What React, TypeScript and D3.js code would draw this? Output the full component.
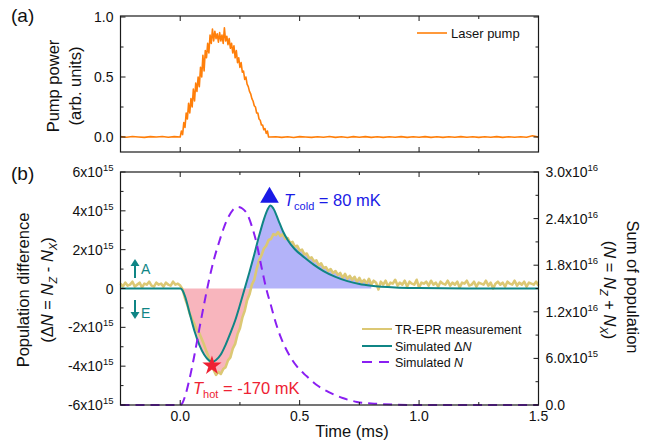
import React from 'react';
import * as d3 from 'd3';

const W = 657;
const H = 443;
const FONT = '"Liberation Sans", Arial, Helvetica, sans-serif';

// ---- data ----
// laser pump (arb. units), [time ms, value]
const pumpBase = [
  [-0.25, 0.003], [-0.225, -0.002], [-0.2, 0.004], [-0.175, 0], [-0.15, -0.003], [-0.125, 0.003],
  [-0.1, 0], [-0.075, 0.004], [-0.05, -0.002], [-0.025, 0.003],
];
const pumpPulse = [
  [0.0, 0.0], [0.005, 0.05], [0.01, 0.02], [0.015, 0.12], [0.02, 0.08], [0.025, 0.2], [0.03, 0.15],
  [0.035, 0.28], [0.04, 0.2], [0.045, 0.32], [0.05, 0.25], [0.055, 0.4], [0.06, 0.3], [0.065, 0.45],
  [0.07, 0.38], [0.075, 0.5], [0.08, 0.42], [0.085, 0.58], [0.09, 0.5], [0.095, 0.68], [0.1, 0.55],
  [0.105, 0.72], [0.11, 0.66], [0.115, 0.78], [0.12, 0.7], [0.125, 0.85], [0.13, 0.78], [0.135, 0.9],
  [0.14, 0.8], [0.145, 0.88], [0.15, 0.82], [0.155, 0.86], [0.16, 0.79], [0.165, 0.87], [0.17, 0.8],
  [0.175, 0.85], [0.18, 0.78], [0.185, 0.91], [0.19, 0.8], [0.195, 0.84], [0.2, 0.77], [0.205, 0.82],
  [0.21, 0.74], [0.215, 0.78], [0.22, 0.7], [0.225, 0.76], [0.23, 0.66], [0.235, 0.72], [0.24, 0.62],
  [0.245, 0.66], [0.25, 0.58], [0.255, 0.62], [0.26, 0.54], [0.265, 0.55], [0.27, 0.48], [0.275, 0.5],
  [0.28, 0.44], [0.285, 0.42], [0.29, 0.38], [0.295, 0.36], [0.3, 0.32], [0.305, 0.3], [0.31, 0.26],
  [0.315, 0.25], [0.32, 0.2], [0.325, 0.2], [0.33, 0.15], [0.335, 0.14], [0.34, 0.1], [0.345, 0.1],
  [0.35, 0.06], [0.355, 0.07], [0.36, 0.03], [0.365, 0.05], [0.37, 0.0], [0.375, 0.0],
];
const pumpTail = [
  [0.4, 0.002], [0.425, -0.003], [0.45, 0.002], [0.475, -0.004], [0.5, 0.003], [0.525, 0],
  [0.55, -0.003], [0.575, 0.002], [0.6, -0.002], [0.625, 0.004], [0.65, -0.003], [0.675, 0.002],
  [0.7, -0.004], [0.725, 0.003], [0.75, -0.002], [0.775, 0.003], [0.8, -0.003], [0.825, 0.002],
  [0.85, -0.003], [0.875, 0.002], [0.9, -0.002], [0.925, 0.003], [0.95, -0.003], [0.975, 0.002],
  [1.0, -0.002], [1.025, 0.003], [1.05, -0.003], [1.075, 0.002], [1.1, -0.003], [1.125, 0.002],
  [1.15, -0.002], [1.175, 0.003], [1.2, -0.002], [1.225, 0.002], [1.25, -0.003], [1.275, 0.002],
  [1.3, -0.002], [1.325, 0.003], [1.35, -0.003], [1.375, 0.002], [1.4, -0.002], [1.425, 0.002],
  [1.45, -0.002], [1.475, 0.01], [1.5, 0.0],
];

// TR-EPR measurement (x1e15), every 0.01 ms from -0.25
const measValues = [
  0.25, 0.1, 0.3, 0.15, 0.2, 0.35, 0.1, 0.2, 0.3, 0.05, // -0.25
  0.25, 0.2, 0.35, 0.15, 0.1, 0.3, 0.2, 0.25, 0.1, 0.3, // -0.15
  0.2, 0.15, 0.35, 0.2, 0.25, 0.15, -0.05, -0.5, -0.85, -1.3, // -0.05
  -1.6, -1.85, -2.15, -2.3, -2.6, -2.9, -3.25, -3.55, -3.95, -4.2, // 0.05
  -4.45, -4.3, -4.4, -4.15, -4.05, -3.7, -3.55, -3.1, -2.85, -2.35, // 0.15
  -2.05, -1.5, -1.15, -0.6, -0.3, 0.2, 0.45, 1.0, 1.45, 1.7, // 0.25
  2.05, 2.2, 2.5, 2.55, 2.8, 2.75, 2.9, 2.7, 2.8, 2.55, // 0.35
  2.6, 2.35, 2.4, 2.15, 2.2, 1.95, 2.0, 1.75, 1.8, 1.55, // 0.45
  1.6, 1.4, 1.45, 1.2, 1.3, 1.05, 1.1, 0.9, 1.0, 0.8, // 0.55
  0.9, 0.7, 0.8, 0.55, 0.75, 0.5, 0.65, 0.45, 0.6, 0.35, // 0.65
  0.55, 0.3, 0.45, 0.25, 0.5, 0.2, 0.4, 0.3, -0.05, 0.35, // 0.75
  0.2, 0.4, 0.1, 0.3, 0.25, 0.45, 0.15, 0.3, 0.2, 0.4, // 0.85
  0.1, 0.35, 0.25, 0.2, 0.45, 0.05, 0.3, 0.25, 0.35, 0.15, // 0.95
  0.4, 0.2, 0.3, 0.1, 0.35, 0.25, 0.2, 0.4, 0.15, 0.3, // 1.05
  0.2, 0.35, 0.05, 0.3, 0.25, 0.4, 0.15, 0.2, 0.35, 0.1, // 1.15
  0.3, 0.25, 0.2, 0.4, 0.15, 0.3, 0.0, 0.25, 0.35, 0.2, // 1.25
  0.3, 0.1, 0.35, 0.25, 0.2, 0.4, 0.15, 0.3, 0.2, 0.35, // 1.35
  0.1, 0.3, 0.25, 0.2, 0.35, 0.15, // 1.45
];

// simulated population difference (x1e15)
const simDiff = [
  [-0.25, 0], [0, 0], [0.01, -0.1], [0.02, -0.4], [0.04, -1.3], [0.06, -2.2], [0.08, -2.9],
  [0.1, -3.4], [0.12, -3.7], [0.135, -3.77], [0.15, -3.68], [0.17, -3.4], [0.19, -2.9], [0.21, -2.3],
  [0.23, -1.65], [0.25, -0.85], [0.27, 0.0], [0.29, 0.85], [0.31, 1.75], [0.33, 2.7], [0.35, 3.55],
  [0.365, 4.05], [0.378, 4.28], [0.39, 4.12], [0.41, 3.55], [0.43, 2.95], [0.45, 2.5], [0.48, 2.02],
  [0.52, 1.6], [0.56, 1.22], [0.6, 0.9], [0.65, 0.6], [0.7, 0.38], [0.75, 0.23], [0.8, 0.14],
  [0.9, 0.05], [1.0, 0.02], [1.2, 0], [1.5, 0],
];

// simulated sum of population (x1e16)
const simSum = [
  [-0.25, 0], [0, 0], [0.01, 0.03], [0.02, 0.11], [0.04, 0.35], [0.06, 0.65], [0.08, 0.98],
  [0.1, 1.3], [0.12, 1.6], [0.14, 1.86], [0.16, 2.07], [0.18, 2.26], [0.2, 2.41], [0.22, 2.51],
  [0.24, 2.55], [0.26, 2.53], [0.28, 2.46], [0.3, 2.3], [0.32, 2.08], [0.34, 1.78], [0.36, 1.5],
  [0.38, 1.28], [0.4, 1.06], [0.42, 0.88], [0.45, 0.68], [0.49, 0.49], [0.53, 0.37], [0.57, 0.26],
  [0.62, 0.17], [0.68, 0.09], [0.74, 0.04], [0.8, 0.02], [0.9, 0.005], [1.0, 0], [1.5, 0],
];

const xMajor = [0, 0.5, 1.0, 1.5];
const xMinor = [-0.25, 0.25, 0.75, 1.25];
const pumpMajor = [0, 0.5, 1.0];
const pumpMinor = [0.25, 0.75];
const diffMajor = [-6, -4, -2, 0, 2, 4, 6];
const diffMinor = [-5, -3, -1, 1, 3, 5];
const sumMajor = [0, 0.6, 1.2, 1.8, 2.4, 3.0];
const sumMinor = [0.3, 0.9, 1.5, 2.1, 2.7];

const C = {
  pump: '#ff7f0a',
  meas: '#dcc874',
  sim: '#0f8585',
  sum: '#8a1ff2',
  pink: '#f8b5bd',
  blue: '#b3b3f9',
  cold: '#1a1ae6',
  hot: '#ee2233',
  axis: '#1a1a1a',
};

// ---- layout ----
const L = 120.5;
const R = 538.5;
const aTop = 16;
const aBot = 152;
const bTop = 172;
const bBot = 405;

const x = d3.scaleLinear().domain([-0.25, 1.5]).range([L, R]);
const yPump = d3.scaleLinear().domain([0, 1]).range([137, 17]);
const yDiff = d3.scaleLinear().domain([-6, 6]).range([bBot, bTop]);
const ySum = d3.scaleLinear().domain([0, 3]).range([bBot, bTop]);

const fmt1 = (v: number) => v.toFixed(1);

function Sup({ base, exp, size = 14 }: { base: string; exp: string; size?: number }) {
  return (
    <>
      <tspan>{base}</tspan>
      <tspan dy={-6} fontSize={size * 0.68}>{exp}</tspan>
    </>
  );
}

export default function App() {
  const meas = measValues.map((v, i) => [-0.25 + i * 0.01, v]);
  const pump = [...pumpBase, ...pumpPulse, ...pumpTail];

  const pumpLine = d3.line<number[]>().x(d => x(d[0])).y(d => yPump(d[1]));
  const measLine = d3.line<number[]>().x(d => x(d[0])).y(d => yDiff(d[1]));
  const simLine = d3.line<number[]>().x(d => x(d[0])).y(d => yDiff(d[1])).curve(d3.curveMonotoneX);
  const sumLine = d3.line<number[]>().x(d => x(d[0])).y(d => ySum(d[1])).curve(d3.curveMonotoneX);

  // shaded areas: between zero and the more extreme of simulation / measurement
  const simAt = d3.scaleLinear().domain(simDiff.map(d => d[0])).range(simDiff.map(d => d[1]));
  const fillPts = meas.filter(d => d[0] >= 0 && d[0] <= 0.8);
  const measAt = d3.scaleLinear().domain(fillPts.map(p => p[0])).range(fillPts.map(p => p[1]));
  const fillDense = d3.range(0, 0.801, 0.0025).map(t => [t, simAt(t), measAt(t)]);
  const negArea = d3.area<number[]>()
    .x(d => x(d[0]))
    .y0(yDiff(0))
    .y1(d => yDiff(Math.min(0, d[1], d[0] < 0.12 ? d[1] : d[2])))
    .curve(d3.curveMonotoneX);
  const posArea = d3.area<number[]>()
    .x(d => x(d[0]))
    .y0(yDiff(0))
    .y1(d => yDiff(Math.max(0, d[1], d[2] - 0.05)))
    .curve(d3.curveLinear);

  const peak = simDiff.reduce((a, b) => (b[1] > a[1] ? b : a));
  const trough = simDiff.reduce((a, b) => (b[1] < a[1] ? b : a));
  const tri = d3.symbol(d3.symbolTriangle, 150)();
  const star = d3.symbol(d3.symbolStar, 115)();

  const tick = (key: string, x1: number, y1: number, x2: number, y2: number) => (
    <line key={key} x1={x1} y1={y1} x2={x2} y2={y2} stroke={C.axis} strokeWidth={1} />
  );

  const topTicks = (top: number, bot: number, pre: string) => [
    ...xMajor.map(t => tick(pre + 'xb' + t, x(t), bot, x(t), bot - 5)),
    ...xMinor.map(t => tick(pre + 'xbm' + t, x(t), bot, x(t), bot - 3)),
    ...xMajor.map(t => tick(pre + 'xt' + t, x(t), top, x(t), top + 5)),
    ...xMinor.map(t => tick(pre + 'xtm' + t, x(t), top, x(t), top + 3)),
  ];

  return (
    <svg width={W} height={H} style={{ position: 'absolute', left: 0, top: 0, background: '#fff' }} fontFamily={FONT}>
      {/* ---------------- panel (a) ---------------- */}
      <text x={11} y={22} fontSize={19} fill="#111">(a)</text>
      <path d={pumpLine(pump) || ''} fill="none" stroke={C.pump} strokeWidth={1.6} strokeLinejoin="round" />
      <rect x={L} y={aTop} width={R - L} height={aBot - aTop} fill="none" stroke={C.axis} strokeWidth={1.2} />
      {topTicks(aTop, aBot, 'a')}
      {pumpMajor.map(v => tick('pl' + v, L, yPump(v), L + 5, yPump(v)))}
      {pumpMinor.map(v => tick('plm' + v, L, yPump(v), L + 3, yPump(v)))}
      {pumpMajor.map(v => tick('pr' + v, R, yPump(v), R - 5, yPump(v)))}
      {pumpMinor.map(v => tick('prm' + v, R, yPump(v), R - 3, yPump(v)))}
      {pumpMajor.map(v => (
        <text key={'plt' + v} x={L - 7} y={yPump(v) + 5} fontSize={14} textAnchor="end" fill="#111">{fmt1(v)}</text>
      ))}
      <g transform="translate(59,86) rotate(-90)">
        <text textAnchor="middle" fontSize={16.5} fill="#111">Pump power</text>
      </g>
      <g transform="translate(81,86) rotate(-90)">
        <text textAnchor="middle" fontSize={16.5} fill="#111">(arb. units)</text>
      </g>
      <line x1={417} x2={447} y1={33} y2={33} stroke={C.pump} strokeWidth={1.6} />
      <text x={451} y={38} fontSize={13} fill="#111">Laser pump</text>

      {/* ---------------- panel (b) ---------------- */}
      <text x={11} y={180} fontSize={19} fill="#111">(b)</text>
      <path d={negArea(fillDense) || ''} fill={C.pink} />
      <path d={posArea(fillDense) || ''} fill={C.blue} />
      <path d={measLine(meas) || ''} fill="none" stroke={C.meas} strokeWidth={2.6} strokeLinejoin="round" />
      <path d={simLine(simDiff) || ''} fill="none" stroke={C.sim} strokeWidth={2} />
      <path d={sumLine(simSum) || ''} fill="none" stroke={C.sum} strokeWidth={2} strokeDasharray="9 6" />

      <rect x={L} y={bTop} width={R - L} height={bBot - bTop} fill="none" stroke={C.axis} strokeWidth={1.2} />
      {topTicks(bTop, bBot, 'b')}
      {diffMajor.map(v => tick('dl' + v, L, yDiff(v), L + 5, yDiff(v)))}
      {diffMinor.map(v => tick('dlm' + v, L, yDiff(v), L + 3, yDiff(v)))}
      {sumMajor.map(v => tick('sr' + v, R, ySum(v), R - 5, ySum(v)))}
      {sumMinor.map(v => tick('srm' + v, R, ySum(v), R - 3, ySum(v)))}
      {diffMajor.map(v => (
        <text key={'dlt' + v} x={L - 7} y={yDiff(v) + 5} fontSize={14} textAnchor="end" fill="#111">
          {v === 0 ? '0' : <Sup base={`${v}x10`} exp="15" />}
        </text>
      ))}
      {sumMajor.map(v => (
        <text key={'srt' + v} x={R + 7} y={ySum(v) + 5} fontSize={14} fill="#111">
          {v === 0 ? '0.0' : v < 1 ? <Sup base={`${fmt1(v * 10)}x10`} exp="15" /> : <Sup base={`${fmt1(v)}x10`} exp="16" />}
        </text>
      ))}
      {xMajor.map(t => (
        <text key={'xt' + t} x={x(t)} y={421} fontSize={14} textAnchor="middle" fill="#111">{fmt1(t)}</text>
      ))}
      <text x={352} y={437} fontSize={16.5} textAnchor="middle" fill="#111">Time (ms)</text>

      <g transform="translate(29,290) rotate(-90)">
        <text textAnchor="middle" fontSize={16.5} fill="#111">Population difference</text>
      </g>
      <g transform="translate(53,290) rotate(-90)">
        <text textAnchor="middle" fontSize={16.5} fill="#111">
          (Δ<tspan fontStyle="italic">N</tspan> = <tspan fontStyle="italic">N</tspan>
          <tspan dy={4} fontSize={11} fontStyle="italic">Z</tspan>
          <tspan dy={-4}> - </tspan>
          <tspan fontStyle="italic">N</tspan>
          <tspan dy={4} fontSize={11} fontStyle="italic">X</tspan>
          <tspan dy={-4}>)</tspan>
        </text>
      </g>
      <g transform="translate(627,287) rotate(90)">
        <text textAnchor="middle" fontSize={16.5} fill="#111">Sum of population</text>
      </g>
      <g transform="translate(604,290) rotate(90)">
        <text textAnchor="middle" fontSize={16.5} fill="#111">
          (<tspan fontStyle="italic">N</tspan> = <tspan fontStyle="italic">N</tspan>
          <tspan dy={4} fontSize={11} fontStyle="italic">Z</tspan>
          <tspan dy={-4}> + </tspan>
          <tspan fontStyle="italic">N</tspan>
          <tspan dy={4} fontSize={11} fontStyle="italic">X</tspan>
          <tspan dy={-4}>)</tspan>
        </text>
      </g>

      {/* A / E markers */}
      <g fill={C.sim} stroke={C.sim}>
        <line x1={135} x2={135} y1={278} y2={264} strokeWidth={2} />
        <path d="M130.5,266 L135,259 L139.5,266 Z" stroke="none" />
        <line x1={135} x2={135} y1={300} y2={314} strokeWidth={2} />
        <path d="M130.5,312 L135,319 L139.5,312 Z" stroke="none" />
      </g>
      <text x={141} y={274} fontSize={14} fill={C.sim}>A</text>
      <text x={141} y={318} fontSize={14} fill={C.sim}>E</text>

      {/* temperature markers */}
      <path d={tri || ''} transform={`translate(${x(peak[0]) - 1},${yDiff(peak[1]) - 8})`} fill={C.cold} />
      <text x={284} y={206} fontSize={16.5} fill={C.cold}>
        <tspan fontStyle="italic">T</tspan>
        <tspan dy={4} fontSize={11}>cold</tspan>
        <tspan dy={-4}> = 80 mK</tspan>
      </text>
      <path d={star || ''} transform={`translate(${x(trough[0]) - 0.5},${yDiff(trough[1]) + 4})`} fill={C.hot} />
      <text x={193} y={394} fontSize={16.5} fill={C.hot}>
        <tspan fontStyle="italic">T</tspan>
        <tspan dy={4} fontSize={11}>hot</tspan>
        <tspan dy={-4}> = -170 mK</tspan>
      </text>

      {/* legend */}
      <line x1={362} x2={392} y1={329} y2={329} stroke={C.meas} strokeWidth={2} />
      <text x={395} y={333.5} fontSize={12.5} fill="#111">TR-EPR measurement</text>
      <line x1={362} x2={392} y1={346} y2={346} stroke={C.sim} strokeWidth={2} />
      <text x={395} y={350.5} fontSize={12.5} fill="#111">
        Simulated Δ<tspan fontStyle="italic">N</tspan>
      </text>
      <line x1={362} x2={392} y1={362} y2={362} stroke={C.sum} strokeWidth={2} strokeDasharray="10 7" />
      <text x={395} y={366.5} fontSize={12.5} fill="#111">
        Simulated <tspan fontStyle="italic">N</tspan>
      </text>
    </svg>
  );
}
